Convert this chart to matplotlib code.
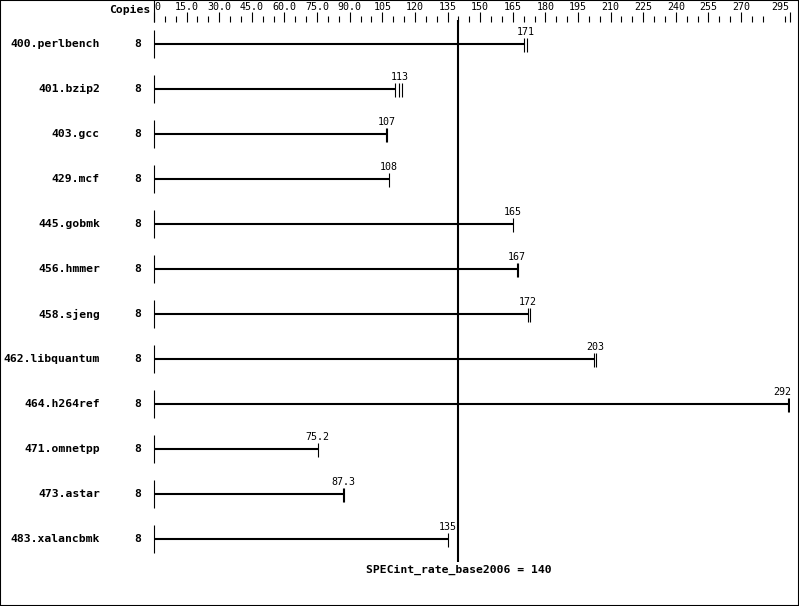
import matplotlib
matplotlib.use('Agg')
import matplotlib.pyplot as plt
import matplotlib.transforms as mtransforms
from matplotlib.patches import Rectangle
from matplotlib.ticker import FixedLocator
import numpy as np

# SPECint_rate_base2006 results
benchmarks = ['400.perlbench', '401.bzip2', '403.gcc', '429.mcf', '445.gobmk',
              '456.hmmer', '458.sjeng', '462.libquantum', '464.h264ref',
              '471.omnetpp', '473.astar', '483.xalancbmk']
copies = [8, 8, 8, 8, 8, 8, 8, 8, 8, 8, 8, 8]
medians = [171, 113, 107, 108, 165, 167, 172, 203, 292, 75.2, 87.3, 135]
runs = [[170, 171.5], [111, 112.5, 114], [106.8, 107.2], [108], [165],
        [166.8, 167.2], [172, 172.8], [202.5, 203.3], [291.8, 292.2],
        [75.2], [87.1, 87.5], [135]]
overall = 140
overall_label = 'SPECint_rate_base2006 = 140'

axis_ticks = [0, 15, 30, 45, 60, 75, 90, 105, 120, 135, 150, 165, 180, 195,
              210, 225, 240, 255, 270, 292.3]
axis_labels = ['0', '15.0', '30.0', '45.0', '60.0', '75.0', '90.0', '105', '120',
               '135', '150', '165', '180', '195', '210', '225', '240', '255',
               '270', '295']

W, H = 799, 606
fig = plt.figure(figsize=(W / 100, H / 100), dpi=100)
fig.patch.set_facecolor('white')

x0, x1 = 154, 790
top, bottom = 22, 606
ax = fig.add_axes([x0 / W, 0, (x1 - x0) / W, (bottom - top) / H])
ax.set_xlim(0, 292.5)
ax.set_ylim((bottom - 44) / 45, (top - 44) / 45)
for s in ax.spines.values():
    s.set_visible(False)
ax.set_yticks([])

ax.xaxis.tick_top()
ax.xaxis.set_major_locator(FixedLocator(axis_ticks))
ax.set_xticklabels(axis_labels)
ax.xaxis.set_minor_locator(FixedLocator([v for v in range(0, 291, 5) if v % 15]))
ax.tick_params(axis='x', which='major', length=7, width=0.8, direction='out',
               pad=0.5, labelsize=7.2, color='black')
ax.tick_params(axis='x', which='minor', length=4, width=0.8, direction='out')
for t in ax.get_xticklabels():
    t.set_fontfamily('DejaVu Sans Mono')
ax.get_xticklabels()[0].set_ha('left')
ax.get_xticklabels()[-1].set_ha('right')

mono = 'DejaVu Sans Mono'
lw_bar = 1.5
y = np.arange(len(benchmarks))
left = mtransforms.blended_transform_factory(fig.transFigure, ax.transData)

# top-left axis mark
ax.vlines(0, (0 - 44) / 45, (top - 44) / 45, color='black', lw=0.8, clip_on=False)
fig.text(150 / W, 1 - 10 / H, 'Copies', ha='right', va='center',
         fontfamily=mono, fontweight='bold', fontsize=8.2)

for i, name in enumerate(benchmarks):
    ax.text(100 / W, y[i], name, transform=left, ha='right', va='center',
            fontfamily=mono, fontweight='bold', fontsize=8.2)
    ax.text(138 / W, y[i], str(copies[i]), transform=left, ha='center', va='center',
            fontfamily=mono, fontweight='bold', fontsize=8.2)
    ax.vlines(0, y[i] - 0.31, y[i] + 0.31, color='black', lw=0.8, clip_on=False)
    ax.hlines(y[i], 0, min(runs[i]), color='black', lw=lw_bar)
    ax.vlines(runs[i], y[i] - 0.13, y[i] + 0.18, color='black', lw=0.8)
    if medians[i] > 280:
        ax.text(medians[i] + 1, y[i] - 0.15, f'{medians[i]:g}', ha='right', va='bottom',
                fontfamily=mono, fontsize=7.2, clip_on=False)
    else:
        ax.text(medians[i], y[i] - 0.15, f'{medians[i]:g}', ha='center', va='bottom',
                fontfamily=mono, fontsize=7.2, clip_on=False)

ax.vlines(overall, (20 - 44) / 45, (562 - 44) / 45, color='black', lw=lw_bar, clip_on=False)
ax.text(overall, (570 - 44) / 45, overall_label, ha='center', va='center',
        fontfamily=mono, fontweight='bold', fontsize=8.2)

fig.patches.append(Rectangle((0, 0), 1, 1, transform=fig.transFigure, fill=False,
                             edgecolor='black', lw=1.5))

fig.savefig('out.png', dpi=100)
